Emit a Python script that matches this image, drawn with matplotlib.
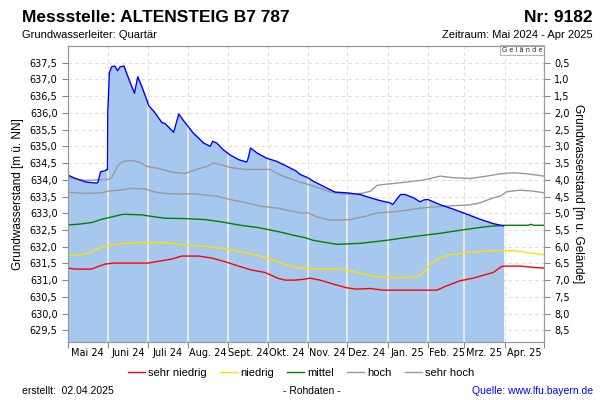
import numpy as np
import pandas as pd
import matplotlib
matplotlib.use('Agg')
import matplotlib.pyplot as plt

# day offsets from 01.05.2024 and levels
start = pd.Timestamp('2024-05-01')

level_days = [0, 5, 14, 22, 23, 25, 28.5, 29.8, 30.3, 30.5, 31.7, 33.5, 36, 38, 40, 43, 45, 48.4,
              51, 53.5, 56.6, 60.4, 62, 66, 72, 74.5, 81, 85, 87, 91, 96, 104, 109, 111, 114, 119,
              124, 131, 137, 138, 140, 145, 152, 160, 168, 175, 178, 184, 188, 198, 205, 214, 224,
              232, 239, 247, 249, 255, 258.5, 265, 270, 273, 276, 285, 295.5, 306, 316, 326, 334]
level = [634.14, 634.05, 633.93, 633.90, 633.93, 634.24, 634.27, 634.31, 634.30, 636.0, 637.2,
         637.38, 637.40, 637.26, 637.38, 637.40, 637.18, 636.84, 636.59, 637.08, 636.79, 636.39,
         636.21, 636.04, 635.71, 635.68, 635.42, 635.97, 635.85, 635.65, 635.40, 635.10, 635.00,
         635.15, 635.10, 634.90, 634.75, 634.60, 634.53, 634.62, 634.95, 634.80, 634.65, 634.55,
         634.40, 634.26, 634.16, 634.06, 633.96, 633.76, 633.63, 633.61, 633.56, 633.46, 633.38,
         633.31, 633.26, 633.56, 633.56, 633.46, 633.34, 633.40, 633.41, 633.26, 633.12, 632.97,
         632.82, 632.69, 632.62]

sh_days = [0, 13, 31, 33.6, 35.6, 38.7, 42.5, 49, 55.3, 60.4, 69.3, 79.6, 89.8, 98.8, 106.4, 111.5,
           119.2, 124.3, 134.5, 155, 162.7, 175.5, 184.4, 193.3, 203.5, 216.3, 226, 232, 236.8,
           241.9, 254.7, 270, 277.7, 285.3, 295.6, 308.4, 321.2, 331.4, 341.6, 351.8, 365]
sehr_hoch = [634.06, 633.98, 634.01, 634.06, 634.23, 634.45, 634.55, 634.58, 634.52, 634.40,
             634.34, 634.23, 634.19, 634.31, 634.40, 634.50, 634.43, 634.37, 634.31, 634.31,
             634.14, 633.96, 633.86, 633.74, 633.61, 633.56, 633.60, 633.66, 633.83, 633.86,
             633.91, 633.98, 634.04, 634.11, 634.06, 634.04, 634.11, 634.18, 634.21, 634.18, 634.11]

h_days = [0, 13, 26, 31, 43.8, 46.3, 59, 66.8, 77, 89.8, 96.2, 114, 124.3, 137, 142.2, 147.3, 160,
          178, 184.4, 190.8, 201, 216.3, 229.1, 236.8, 249.5, 259.8, 270, 277.7, 293, 308, 316,
          326, 332, 336, 346.6, 357, 365]
hoch = [633.63, 633.59, 633.61, 633.66, 633.71, 633.74, 633.73, 633.63, 633.58, 633.58, 633.58,
        633.51, 633.41, 633.31, 633.26, 633.21, 633.16, 633.01, 633.01, 632.89, 632.79, 632.81,
        632.92, 633.01, 633.04, 633.09, 633.15, 633.18, 633.22, 633.25, 633.31, 633.46, 633.52,
        633.64, 633.69, 633.66, 633.61]

m_days = [0, 7.7, 18, 25.9, 33.6, 42.5, 56.6, 66.8, 74.4, 89.8, 105, 118, 130.7, 146, 161.3,
          176.6, 181.8, 188, 198.5, 206, 224, 244.5, 262.3, 285.3, 305.8, 321, 334, 353, 355, 357, 365]
mittel = [632.65, 632.67, 632.72, 632.82, 632.89, 632.97, 632.95, 632.89, 632.85, 632.84, 632.81,
          632.74, 632.65, 632.57, 632.45, 632.31, 632.27, 632.19, 632.12, 632.07, 632.10, 632.19,
          632.29, 632.40, 632.52, 632.60, 632.64, 632.64, 632.67, 632.64, 632.64]

n_days = [0, 9.3, 16.9, 22, 28.5, 41.2, 51.4, 74.4, 89.8, 105, 120.5, 135.8, 151, 163.8, 174,
          181.8, 188.8, 208.7, 219, 229.1, 239.3, 252, 268.7, 272.5, 277.7, 285.3, 293, 305.8,
          323.6, 341.5, 356.8, 365]
niedrig = [631.75, 631.75, 631.82, 631.94, 632.02, 632.09, 632.12, 632.12, 632.05, 632.01, 631.94,
           631.82, 631.68, 631.51, 631.38, 631.36, 631.33, 631.33, 631.25, 631.16, 631.09, 631.07,
           631.09, 631.23, 631.48, 631.66, 631.76, 631.82, 631.88, 631.88, 631.80, 631.76]

sn_days = [0, 5.4, 18, 23.3, 28.5, 34.8, 61.6, 71.9, 79.6, 87.2, 100, 110.3, 120.5, 130.7, 140.9,
           151, 161.3, 166.5, 174, 181.8, 185.6, 193.3, 203.5, 213.8, 221.4, 231.6, 241.8, 267,
           282.8, 290.4, 300.6, 310.8, 326.1, 332.6, 336.4, 346.6, 356.8, 365]
sehr_niedrig = [631.36, 631.33, 631.33, 631.41, 631.48, 631.51, 631.51, 631.58, 631.63, 631.72,
                631.72, 631.66, 631.55, 631.42, 631.30, 631.23, 631.05, 631.00, 631.00, 631.03,
                631.06, 631.00, 630.88, 630.77, 630.73, 630.75, 630.70, 630.70, 630.70, 630.83,
                630.98, 631.06, 631.23, 631.41, 631.42, 631.42, 631.38, 631.36]

month_labels = ['Mai 24', 'Juni 24', 'Juli 24', 'Aug. 24', 'Sept. 24', 'Okt. 24', 'Nov. 24',
                'Dez. 24', 'Jan. 25', 'Feb. 25', 'Mrz. 25', 'Apr. 25']
gelaende = 638.0


def to_dates(days):
    return start + pd.to_timedelta(np.array(days, dtype=float), unit='D')


fig = plt.figure(figsize=(6, 4), dpi=100)
ax = fig.add_axes([68 / 600, 1 - 342 / 400, 476 / 600, 296 / 400])
ymin = 629.15

# grid under everything
ax.set_axisbelow(True)
ax.grid(True, color='#dddddd', linestyle=(0, (3, 3)), linewidth=0.8)

poly = ax.fill_between(to_dates(level_days), level, ymin, color='#a6c8ee', linewidth=0, zorder=1)

month_starts = pd.date_range('2024-05-01', '2025-05-01', freq='MS')
for d in month_starts[1:-1]:
    vl = ax.axvline(d, color='#e6e6e6', linewidth=1.5, zorder=2)
    vl.set_clip_path(poly.get_paths()[0], ax.transData)

ax.plot(to_dates(sn_days), sehr_niedrig, color='red', lw=1, zorder=3, label='sehr niedrig')
ax.plot(to_dates(n_days), niedrig, color='#ffe000', lw=1, zorder=3, label='niedrig')
ax.plot(to_dates(m_days), mittel, color='green', lw=1, zorder=3, label='mittel')
ax.plot(to_dates(h_days), hoch, color='#999999', lw=1, zorder=3, label='hoch')
ax.plot(to_dates(sh_days), sehr_hoch, color='#999999', lw=1, zorder=3, label='sehr hoch')
ax.plot(to_dates(level_days), level, color='blue', lw=1, zorder=4)

ax.set_xlim(month_starts[0], month_starts[-1])
ax.set_ylim(ymin, gelaende)
ax.set_yticks(np.arange(629.5, 637.6, 0.5))
ax.set_yticklabels([f'{v:.1f}'.replace('.', ',') for v in np.arange(629.5, 637.6, 0.5)])
ax.set_xticks(month_starts)
ax.set_xticklabels([])
mids = month_starts[:-1] + pd.Timedelta(days=15)
ax.set_xticks(mids, minor=True)
ax.set_xticklabels(month_labels, minor=True)
ax.tick_params(axis='x', which='minor', length=0, pad=4, labelsize=7)
ax.tick_params(axis='x', which='major', length=4, color='#888888')
ax.tick_params(axis='y', length=4, color='#888888', labelsize=7)
ax.set_ylabel('Grundwasserstand [m ü. NN]', fontsize=8.5, family='Liberation Sans')
for s in ax.spines.values():
    s.set_color('#999999')

ax2 = ax.twinx()
ax2.set_ylim(gelaende - ymin, 0)
ax2.set_yticks(np.arange(0.5, 8.6, 0.5))
ax2.set_yticklabels([f'{v:.1f}'.replace('.', ',') for v in np.arange(0.5, 8.6, 0.5)])
ax2.tick_params(axis='y', length=4, color='#888888', labelsize=7)
ax2.set_ylabel('Grundwasserstand [m u. Gelände]', fontsize=8.5, family='Liberation Sans',
               rotation=-90, labelpad=10)
for s in ax2.spines.values():
    s.set_color('#999999')

ax.text(0.997, 0.997, 'G e l ä n d e', transform=ax.transAxes, ha='right', va='top', fontsize=4.8,
        color='#222222', zorder=6,
        bbox=dict(boxstyle='square,pad=0.25', fc='white', ec='#aaaaaa', lw=0.6))

# header
fig.text(22 / 600, 1 - 18 / 400, 'Messstelle: ALTENSTEIG B7 787', fontsize=12.5, fontweight='bold',
         family='Liberation Sans', va='center')
fig.text(593 / 600, 1 - 18 / 400, 'Nr: 9182', fontsize=12.5, fontweight='bold',
         family='Liberation Sans', va='center', ha='right')
fig.text(22 / 600, 1 - 35 / 400, 'Grundwasserleiter: Quartär', fontsize=8,
         family='Liberation Sans', va='center')
fig.text(593 / 600, 1 - 35 / 400, 'Zeitraum: Mai 2024 - Apr 2025', fontsize=8,
         family='Liberation Sans', va='center', ha='right')

# legend and footer
fig.legend(*ax.get_legend_handles_labels(), loc='center', bbox_to_anchor=(0.502, 1 - 373 / 400),
           ncol=5, frameon=False, prop={'family': 'Liberation Sans', 'size': 8},
           handlelength=1.5, handletextpad=0.3, columnspacing=1.2)
fig.text(22 / 600, 1 - 391 / 400, 'erstellt:  02.04.2025', fontsize=7.5,
         family='Liberation Sans', va='center')
fig.text(312 / 600, 1 - 391 / 400, '- Rohdaten -', fontsize=7.5,
         family='Liberation Sans', va='center', ha='center')
fig.text(593 / 600, 1 - 391 / 400, 'Quelle: www.lfu.bayern.de', fontsize=7.5, color='blue',
         family='Liberation Sans', va='center', ha='right')

fig.savefig('out.png', dpi=100)
